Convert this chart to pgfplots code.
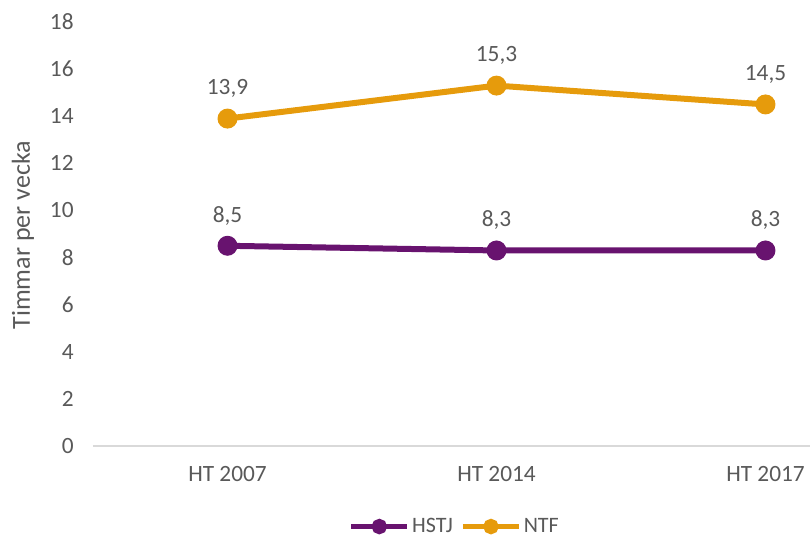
\documentclass[border=0pt]{standalone}
\usepackage{fontspec}
\setmainfont{Carlito}
\usepackage{pgfplots}
\pgfplotsset{compat=1.18}

\definecolor{hstj}{HTML}{68136F}
\definecolor{ntf}{HTML}{E69B0C}
\definecolor{txt}{HTML}{595959}
\definecolor{axisgray}{HTML}{D9D9D9}

\begin{document}
\begin{tikzpicture}
\begin{axis}[
  name=ax,
  scale only axis,
  width=605.25pt, height=318pt,
  xmin=-0.5, xmax=2.5,
  ymin=0, ymax=18,
  xtick={0,1,2},
  xticklabels={HT 2007, HT 2014, HT 2017},
  ytick={0,2,...,18},
  axis line style={draw=none},
  tick style={draw=none},
  font=\fontsize{17.5}{20}\selectfont,
  tick label style={text=txt},
  /pgf/number format/assume math mode=true,
  yticklabel style={xshift=-11pt},
  xticklabel style={yshift=-12pt},
  ylabel={Timmar per vecka},
  ylabel style={text=txt, font=\fontsize{19.5}{22}\selectfont, at={(axis description cs:0,0.497)}, anchor=center, yshift=52.5pt},
  clip=false,
  nodes near coords={\pgfmathprintnumber[use comma, fixed, fixed zerofill, precision=1]{\pgfplotspointmeta}},
  every node near coord/.append style={text=txt, anchor=center, yshift=22.5pt},
  legend columns=2,
  legend style={draw=none, at={(0.449,-0.19)}, anchor=center, text=txt,
    font=\fontsize{16.5}{18}\selectfont,
    /tikz/every even column/.append style={column sep=4pt}},
  legend image code/.code={\draw[mark repeat=2,mark phase=2,#1,line width=3.2pt,mark size=4.2pt] plot coordinates {(0pt,0pt) (21pt,0pt) (42pt,0pt)};},
]
\draw[axisgray, line width=1pt] (axis cs:-0.5,0) -- (axis cs:2.5,0);
\addplot[hstj, line width=4.5pt, mark=*, mark size=5.2pt, mark options={solid}]
  coordinates {(0,8.5) (1,8.3) (2,8.3)};
\addlegendentry{HSTJ}
\addplot[ntf, line width=4.5pt, mark=*, mark size=5.2pt, mark options={solid}]
  coordinates {(0,13.9) (1,15.3) (2,14.5)};
\addlegendentry{NTF}
\end{axis}
\pgfresetboundingbox
\path ([xshift=-69.75pt,yshift=-69.75pt]ax.south west) rectangle ([xshift=-67.5pt,yshift=16.5pt]ax.north east);
\end{tikzpicture}
\end{document}
